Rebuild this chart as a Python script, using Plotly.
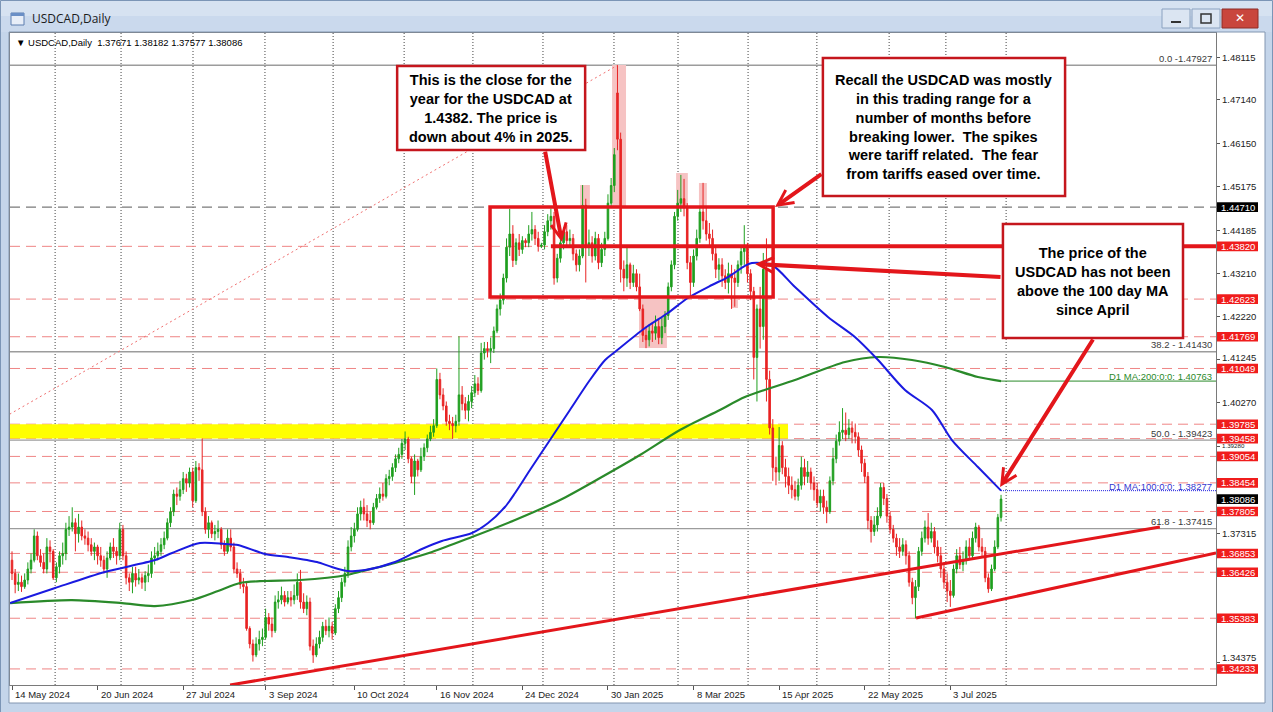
import plotly.graph_objects as go

# ---------------------------------------------------------------------------
# Market data: USDCAD daily candles, one entry per bar (bar 0 = 14 May 2024)
# ---------------------------------------------------------------------------
symbol = "USDCAD"
timeframe = "Daily"

opens = [
    1.3670, 1.3640, 1.3615, 1.3620, 1.3610, 1.3625, 1.3650, 1.3670, 1.3725, 1.3680,
    1.3665, 1.3650, 1.3700, 1.3690, 1.3630, 1.3655, 1.3680, 1.3685, 1.3740, 1.3745,
    1.3755, 1.3730, 1.3745, 1.3725, 1.3720, 1.3705, 1.3690, 1.3700, 1.3680, 1.3670,
    1.3650, 1.3675, 1.3700, 1.3690, 1.3680, 1.3740, 1.3680, 1.3630, 1.3620, 1.3640,
    1.3625, 1.3630, 1.3620, 1.3635, 1.3640, 1.3675, 1.3680, 1.3690, 1.3705, 1.3720,
    1.3755, 1.3780, 1.3820, 1.3815, 1.3830, 1.3855, 1.3845, 1.3870, 1.3805, 1.3880,
    1.3875, 1.3780, 1.3740, 1.3755, 1.3730, 1.3735, 1.3740, 1.3705, 1.3690, 1.3720,
    1.3700, 1.3650, 1.3640, 1.3615, 1.3610, 1.3515, 1.3480, 1.3455, 1.3480, 1.3490,
    1.3495, 1.3540, 1.3525, 1.3510, 1.3575, 1.3580, 1.3590, 1.3575, 1.3585, 1.3580,
    1.3590, 1.3620, 1.3575, 1.3560, 1.3575, 1.3475, 1.3455, 1.3480, 1.3495, 1.3520,
    1.3510, 1.3520, 1.3505, 1.3560, 1.3585, 1.3620, 1.3640, 1.3700, 1.3725, 1.3740,
    1.3775, 1.3790, 1.3775, 1.3760, 1.3755, 1.3790, 1.3810, 1.3820, 1.3815, 1.3855,
    1.3860, 1.3880, 1.3900, 1.3910, 1.3935, 1.3945, 1.3900, 1.3860, 1.3895, 1.3875,
    1.3905, 1.3925, 1.3945, 1.3960, 1.3975, 1.4080, 1.4045, 1.4020, 1.3985, 1.3980,
    1.3975, 1.3985, 1.4045, 1.4025, 1.4010, 1.4030, 1.4050, 1.4070, 1.4055, 1.4140,
    1.4150, 1.4145, 1.4150, 1.4190, 1.4240, 1.4260, 1.4310, 1.4380, 1.4410, 1.4350,
    1.4390, 1.4375, 1.4395, 1.4390, 1.4410, 1.4420, 1.4400, 1.4382, 1.4385, 1.4415,
    1.4440, 1.4450, 1.4310, 1.4355, 1.4390, 1.4415, 1.4395, 1.4400, 1.4365, 1.4340,
    1.4360, 1.4475, 1.4380, 1.4390, 1.4360, 1.4400, 1.4345, 1.4375, 1.4400, 1.4480,
    1.4520, 1.4730, 1.4625, 1.4330, 1.4310, 1.4340, 1.4300, 1.4320, 1.4290, 1.4240,
    1.4180, 1.4170, 1.4190, 1.4185, 1.4200, 1.4175, 1.4200, 1.4225, 1.4290, 1.4340,
    1.4450, 1.4480, 1.4490, 1.4470, 1.4345, 1.4300, 1.4360, 1.4400, 1.4460, 1.4440,
    1.4410, 1.4400, 1.4365, 1.4330, 1.4340, 1.4315, 1.4300, 1.4320, 1.4310, 1.4300,
    1.4340, 1.4370, 1.4380, 1.4320, 1.4280, 1.4130, 1.4240, 1.4200, 1.4330, 1.4080,
    1.3970, 1.3880, 1.3870, 1.3930, 1.3880, 1.3860, 1.3840, 1.3830, 1.3815, 1.3840,
    1.3880, 1.3860, 1.3870, 1.3845, 1.3830, 1.3800, 1.3815, 1.3790, 1.3780, 1.3850,
    1.3900, 1.3940, 1.3960, 1.3965, 1.3955, 1.3970, 1.3960, 1.3950, 1.3920, 1.3890,
    1.3860, 1.3760, 1.3735, 1.3750, 1.3770, 1.3835, 1.3810, 1.3770, 1.3740, 1.3720,
    1.3700, 1.3690, 1.3705, 1.3680, 1.3620, 1.3585, 1.3610, 1.3690, 1.3720, 1.3745,
    1.3720, 1.3735, 1.3700, 1.3680, 1.3650, 1.3620, 1.3600, 1.3590, 1.3650, 1.3680,
    1.3660, 1.3670, 1.3700, 1.3680, 1.3720, 1.3745, 1.3700, 1.3690, 1.3630, 1.3605,
    1.3650, 1.3700, 1.37671,
]

highs = [
    1.3690, 1.3650, 1.3640, 1.3635, 1.3640, 1.3665, 1.3685, 1.3740, 1.3735, 1.3695,
    1.3685, 1.3720, 1.3715, 1.3695, 1.3665, 1.3690, 1.3710, 1.3755, 1.3770, 1.3790,
    1.3765, 1.3775, 1.3760, 1.3740, 1.3735, 1.3720, 1.3710, 1.3705, 1.3700, 1.3680,
    1.3690, 1.3710, 1.3720, 1.3700, 1.3755, 1.3750, 1.3690, 1.3640, 1.3655, 1.3655,
    1.3650, 1.3640, 1.3645, 1.3660, 1.3690, 1.3700, 1.3710, 1.3720, 1.3735, 1.3765,
    1.3790, 1.3830, 1.3835, 1.3850, 1.3870, 1.3866, 1.3880, 1.3880, 1.3895, 1.3890,
    1.3946, 1.3790, 1.3770, 1.3760, 1.3750, 1.3760, 1.3745, 1.3715, 1.3740, 1.3740,
    1.3710, 1.3665, 1.3650, 1.3630, 1.3620, 1.3520, 1.3490, 1.3495, 1.3510, 1.3515,
    1.3560, 1.3550, 1.3540, 1.3590, 1.3600, 1.3610, 1.3600, 1.3600, 1.3600, 1.3615,
    1.3640, 1.3648, 1.3595, 1.3590, 1.3585, 1.3490, 1.3495, 1.3510, 1.3530, 1.3535,
    1.3540, 1.3530, 1.3570, 1.3600, 1.3630, 1.3655, 1.3715, 1.3745, 1.3755, 1.3790,
    1.3805, 1.3810, 1.3795, 1.3780, 1.3800, 1.3820, 1.3835, 1.3845, 1.3865, 1.3875,
    1.3890, 1.3910, 1.3925, 1.3945, 1.3962, 1.3950, 1.3905, 1.3910, 1.3900, 1.3925,
    1.3935, 1.3955, 1.3975, 1.3990, 1.4105, 1.4095, 1.4060, 1.4030, 1.4000, 1.3995,
    1.4000, 1.4178, 1.4065, 1.4040, 1.4045, 1.4065, 1.4090, 1.4085, 1.4163, 1.4165,
    1.4165, 1.4175, 1.4200, 1.4250, 1.4275, 1.4320, 1.4400, 1.4467, 1.4430, 1.4400,
    1.4410, 1.4405, 1.4400, 1.4430, 1.4460, 1.4430, 1.4415, 1.4390, 1.4430, 1.4455,
    1.4468, 1.4460, 1.4365, 1.4400, 1.4425, 1.4430, 1.4420, 1.4410, 1.4375, 1.4375,
    1.4521, 1.4490, 1.4420, 1.4405, 1.4415, 1.4410, 1.4390, 1.4415, 1.4500, 1.4537,
    1.4605, 1.4793, 1.4640, 1.4350, 1.4380, 1.4345, 1.4340, 1.4330, 1.4320, 1.4250,
    1.4200, 1.4205, 1.4210, 1.4225, 1.4215, 1.4220, 1.4235, 1.4300, 1.4350, 1.4460,
    1.4510, 1.4544, 1.4535, 1.4480, 1.4360, 1.4375, 1.4420, 1.4470, 1.4526, 1.4470,
    1.4435, 1.4420, 1.4380, 1.4355, 1.4355, 1.4330, 1.4345, 1.4340, 1.4330, 1.4350,
    1.4385, 1.4430, 1.4390, 1.4330, 1.4290, 1.4250, 1.4290, 1.4367, 1.4400, 1.4100,
    1.3990, 1.3905, 1.3972, 1.3940, 1.3900, 1.3880, 1.3860, 1.3850, 1.3855, 1.3905,
    1.3900, 1.3895, 1.3880, 1.3860, 1.3845, 1.3830, 1.3830, 1.3805, 1.3860, 1.3925,
    1.3955, 1.3985, 1.4015, 1.4005, 1.3990, 1.3985, 1.3980, 1.3960, 1.3930, 1.3900,
    1.3870, 1.3770, 1.3770, 1.3790, 1.3845, 1.3845, 1.3820, 1.3780, 1.3750, 1.3730,
    1.3720, 1.3720, 1.3715, 1.3690, 1.3630, 1.3625, 1.3700, 1.3735, 1.3760, 1.3777,
    1.3755, 1.3745, 1.3715, 1.3700, 1.3665, 1.3640, 1.3625, 1.3660, 1.3695, 1.3700,
    1.3690, 1.3715, 1.3720, 1.3735, 1.3755, 1.3750, 1.3720, 1.3700, 1.3640, 1.3660,
    1.3715, 1.3775, 1.38182,
]

lows = [
    1.3625, 1.3595, 1.3600, 1.3598, 1.3605, 1.3615, 1.3640, 1.3665, 1.3670, 1.3655,
    1.3640, 1.3640, 1.3665, 1.3625, 1.3620, 1.3640, 1.3660, 1.3670, 1.3725, 1.3735,
    1.3690, 1.3710, 1.3715, 1.3705, 1.3690, 1.3680, 1.3670, 1.3660, 1.3655, 1.3640,
    1.3630, 1.3670, 1.3675, 1.3660, 1.3670, 1.3670, 1.3615, 1.3600, 1.3595, 1.3610,
    1.3615, 1.3605, 1.3600, 1.3620, 1.3630, 1.3660, 1.3670, 1.3680, 1.3695, 1.3715,
    1.3745, 1.3770, 1.3795, 1.3805, 1.3820, 1.3825, 1.3835, 1.3790, 1.3800, 1.3850,
    1.3770, 1.3730, 1.3720, 1.3720, 1.3715, 1.3720, 1.3695, 1.3680, 1.3685, 1.3690,
    1.3640, 1.3630, 1.3605, 1.3595, 1.3510, 1.3470, 1.3440, 1.3450, 1.3465, 1.3475,
    1.3490, 1.3510, 1.3495, 1.3505, 1.3560, 1.3570, 1.3565, 1.3570, 1.3565, 1.3570,
    1.3580, 1.3560, 1.3550, 1.3545, 1.3465, 1.3437, 1.3450, 1.3470, 1.3485, 1.3500,
    1.3495, 1.3490, 1.3500, 1.3550, 1.3575, 1.3610, 1.3630, 1.3690, 1.3710, 1.3735,
    1.3760, 1.3760, 1.3745, 1.3740, 1.3750, 1.3785, 1.3800, 1.3805, 1.3810, 1.3840,
    1.3850, 1.3870, 1.3890, 1.3900, 1.3920, 1.3890, 1.3845, 1.3818, 1.3860, 1.3870,
    1.3895, 1.3915, 1.3940, 1.3950, 1.3970, 1.4035, 1.4010, 1.3975, 1.3965, 1.3945,
    1.3960, 1.3975, 1.4010, 1.3990, 1.3985, 1.4015, 1.4040, 1.4045, 1.4050, 1.4125,
    1.4130, 1.4117, 1.4140, 1.4185, 1.4225, 1.4250, 1.4300, 1.4360, 1.4335, 1.4340,
    1.4360, 1.4365, 1.4380, 1.4380, 1.4395, 1.4385, 1.4370, 1.4378, 1.4375, 1.4405,
    1.4420, 1.4295, 1.4300, 1.4345, 1.4375, 1.4385, 1.4380, 1.4350, 1.4325, 1.4325,
    1.4355, 1.4300, 1.4360, 1.4345, 1.4350, 1.4330, 1.4335, 1.4360, 1.4395, 1.4470,
    1.4505, 1.4600, 1.4300, 1.4280, 1.4290, 1.4285, 1.4290, 1.4280, 1.4235, 1.4165,
    1.4151, 1.4155, 1.4165, 1.4170, 1.4160, 1.4160, 1.4185, 1.4215, 1.4280, 1.4330,
    1.4440, 1.4460, 1.4450, 1.4330, 1.4265, 1.4290, 1.4350, 1.4390, 1.4420, 1.4395,
    1.4380, 1.4350, 1.4310, 1.4305, 1.4290, 1.4285, 1.4275, 1.4240, 1.4245, 1.4290,
    1.4320, 1.4340, 1.4300, 1.4260, 1.4080, 1.4030, 1.4150, 1.4170, 1.4030, 1.3955,
    1.3850, 1.3840, 1.3850, 1.3865, 1.3835, 1.3820, 1.3810, 1.3806, 1.3805, 1.3830,
    1.3840, 1.3845, 1.3830, 1.3805, 1.3790, 1.3780, 1.3775, 1.3754, 1.3775, 1.3840,
    1.3890, 1.3930, 1.3945, 1.3940, 1.3945, 1.3935, 1.3935, 1.3905, 1.3870, 1.3845,
    1.3740, 1.3710, 1.3725, 1.3735, 1.3765, 1.3795, 1.3755, 1.3730, 1.3710, 1.3680,
    1.3675, 1.3680, 1.3660, 1.3610, 1.3570, 1.3538, 1.3600, 1.3680, 1.3710, 1.3705,
    1.3710, 1.3685, 1.3665, 1.3630, 1.3605, 1.3575, 1.3564, 1.3585, 1.3640, 1.3650,
    1.3645, 1.3660, 1.3670, 1.3675, 1.3710, 1.3690, 1.3675, 1.3620, 1.3596, 1.3600,
    1.3645, 1.3695, 1.37577,
]

closes = [
    1.3640, 1.3615, 1.3620, 1.3610, 1.3625, 1.3650, 1.3670, 1.3725, 1.3680, 1.3665,
    1.3650, 1.3700, 1.3690, 1.3630, 1.3655, 1.3680, 1.3685, 1.3740, 1.3745, 1.3755,
    1.3730, 1.3745, 1.3725, 1.3720, 1.3705, 1.3690, 1.3700, 1.3680, 1.3670, 1.3650,
    1.3675, 1.3700, 1.3690, 1.3680, 1.3740, 1.3680, 1.3630, 1.3620, 1.3640, 1.3625,
    1.3630, 1.3620, 1.3635, 1.3640, 1.3675, 1.3680, 1.3690, 1.3705, 1.3720, 1.3755,
    1.3780, 1.3820, 1.3815, 1.3830, 1.3855, 1.3845, 1.3870, 1.3805, 1.3880, 1.3875,
    1.3780, 1.3740, 1.3755, 1.3730, 1.3735, 1.3740, 1.3705, 1.3690, 1.3720, 1.3700,
    1.3650, 1.3640, 1.3615, 1.3610, 1.3515, 1.3480, 1.3455, 1.3480, 1.3490, 1.3495,
    1.3540, 1.3525, 1.3510, 1.3575, 1.3580, 1.3590, 1.3575, 1.3585, 1.3580, 1.3590,
    1.3620, 1.3575, 1.3560, 1.3575, 1.3475, 1.3455, 1.3480, 1.3495, 1.3520, 1.3510,
    1.3520, 1.3505, 1.3560, 1.3585, 1.3620, 1.3640, 1.3700, 1.3725, 1.3740, 1.3775,
    1.3790, 1.3775, 1.3760, 1.3755, 1.3790, 1.3810, 1.3820, 1.3815, 1.3855, 1.3860,
    1.3880, 1.3900, 1.3910, 1.3935, 1.3945, 1.3900, 1.3860, 1.3895, 1.3875, 1.3905,
    1.3925, 1.3945, 1.3960, 1.3975, 1.4080, 1.4045, 1.4020, 1.3985, 1.3980, 1.3975,
    1.3985, 1.4045, 1.4025, 1.4010, 1.4030, 1.4050, 1.4070, 1.4055, 1.4140, 1.4150,
    1.4145, 1.4150, 1.4190, 1.4240, 1.4260, 1.4310, 1.4380, 1.4410, 1.4350, 1.4390,
    1.4375, 1.4395, 1.4390, 1.4410, 1.4420, 1.4400, 1.4382, 1.4385, 1.4415, 1.4440,
    1.4450, 1.4310, 1.4355, 1.4390, 1.4415, 1.4395, 1.4400, 1.4365, 1.4340, 1.4360,
    1.4475, 1.4380, 1.4390, 1.4360, 1.4400, 1.4345, 1.4375, 1.4400, 1.4480, 1.4520,
    1.4590, 1.4625, 1.4330, 1.4310, 1.4340, 1.4300, 1.4320, 1.4290, 1.4240, 1.4180,
    1.4170, 1.4190, 1.4185, 1.4200, 1.4175, 1.4200, 1.4225, 1.4290, 1.4340, 1.4450,
    1.4480, 1.4490, 1.4470, 1.4345, 1.4300, 1.4360, 1.4400, 1.4460, 1.4440, 1.4410,
    1.4400, 1.4365, 1.4330, 1.4340, 1.4315, 1.4300, 1.4320, 1.4310, 1.4300, 1.4340,
    1.4370, 1.4380, 1.4320, 1.4280, 1.4130, 1.4240, 1.4200, 1.4330, 1.4080, 1.3970,
    1.3880, 1.3870, 1.3930, 1.3880, 1.3860, 1.3840, 1.3830, 1.3815, 1.3840, 1.3880,
    1.3860, 1.3870, 1.3845, 1.3830, 1.3800, 1.3815, 1.3790, 1.3780, 1.3850, 1.3900,
    1.3940, 1.3960, 1.3965, 1.3955, 1.3970, 1.3960, 1.3950, 1.3920, 1.3890, 1.3860,
    1.3760, 1.3735, 1.3750, 1.3770, 1.3835, 1.3810, 1.3770, 1.3740, 1.3720, 1.3700,
    1.3690, 1.3705, 1.3680, 1.3620, 1.3585, 1.3610, 1.3690, 1.3720, 1.3745, 1.3720,
    1.3735, 1.3700, 1.3680, 1.3650, 1.3620, 1.3600, 1.3590, 1.3650, 1.3680, 1.3660,
    1.3670, 1.3700, 1.3680, 1.3720, 1.3745, 1.3700, 1.3690, 1.3630, 1.3605, 1.3650,
    1.3700, 1.37671, 1.38086,
]

bars = list(range(len(closes)))

# Time axis labels and the bar each one sits on
date_labels = ["14 May 2024", "20 Jun 2024", "27 Jul 2024", "3 Sep 2024", "10 Oct 2024",
               "16 Nov 2024", "24 Dec 2024", "30 Jan 2025", "8 Mar 2025", "15 Apr 2025",
               "22 May 2025", "3 Jul 2025"]
date_label_bars = [0, 27, 54, 80, 108, 134, 161, 188, 215, 242, 269, 296]
month_start_bars = [13.6, 34.4, 57.1, 79.8, 101.3, 123.7, 145.4, 167.5, 189.9,
                    210.1, 232.2, 253.9, 276.7, 294.6, 313.6]

# Moving averages (D1, 100 and 200 periods), sampled along the chart
ma100_bars = [-0.6, 13.6, 29.3, 45.1, 50.5, 59.3, 67.2, 71.3, 79.8, 87.1, 96.2, 100.9,
              106.0, 111.4, 120.8, 129.3, 135.6, 145.1, 150.2, 155.5, 158.7, 163.4,
              169.7, 176.0, 182.3, 187.1, 190.2, 199.7, 206.9, 213.2, 220.8, 225.9,
              231.2, 233.4, 239.7, 247.0, 257.4, 265.9, 273.2, 281.7, 290.2, 296.5,
              304.7, 312.0]
ma100_vals = [1.35728, 1.36069, 1.36432, 1.36704, 1.36863, 1.37090, 1.37067, 1.37045,
              1.36840, 1.36772, 1.36659, 1.36545, 1.36455, 1.36477, 1.36659, 1.36954,
              1.37135, 1.37317, 1.37544, 1.37906, 1.38224, 1.38745, 1.39426, 1.40107,
              1.40787, 1.41241, 1.41423, 1.41967, 1.42307, 1.42648, 1.42943, 1.43124,
              1.43374, 1.43442, 1.43397, 1.42897, 1.42217, 1.41763, 1.41241, 1.40561,
              1.40107, 1.39426, 1.38814, 1.38277]

ma200_bars = [-0.6, 18.9, 34.7, 45.1, 56.8, 65.0, 71.9, 79.8, 90.9, 105.7, 108.2,
              120.8, 132.5, 145.1, 158.7, 172.9, 185.5, 198.1, 210.7, 223.3, 231.2,
              247.0, 262.8, 273.2, 283.9, 294.3, 304.7, 312.0]
ma200_vals = [1.35728, 1.35796, 1.35728, 1.35660, 1.35796, 1.36001, 1.36183, 1.36228,
              1.36251, 1.36364, 1.36410, 1.36637, 1.36886, 1.37226, 1.37612, 1.38065,
              1.38564, 1.39086, 1.39653, 1.40107, 1.40402, 1.40787, 1.41196, 1.41309,
              1.41241, 1.41082, 1.40855, 1.40763]

# Price scale ticks (the ones not hidden behind level flags)
price_ticks = [1.48115, 1.47140, 1.46150, 1.45175, 1.44185, 1.43210, 1.42220, 1.41245,
               1.40270, 1.39280, 1.37315, 1.34375]

# Horizontal levels
red_levels = [1.43820, 1.42623, 1.41769, 1.41049, 1.39785, 1.39458, 1.39054, 1.38454,
              1.37805, 1.36853, 1.36426, 1.35383, 1.34233]
range_top = 1.44710
range_bottom = 1.42670
year_close = 1.43820
support_zone = (1.39458, 1.39785)

# Fibonacci retracement of the 2025 high
fib_pcts = ["0.0", "38.2", "50.0", "61.8"]
fib_prices = [1.47927, 1.41430, 1.39423, 1.37415]
fib_anchor_low = (-221, 1.30919)
fib_anchor_high = (191, 1.47927)

# ---------------------------------------------------------------------------
# Geometry of the window
# ---------------------------------------------------------------------------
W, H = 1273, 712
L, R, T, B = 10, 1216, 33, 685           # plot area in pixels
X_RANGE = [-0.63, 379.81]
Y_RANGE = [1.338685, 1.486595]
PX_PER_PRICE = (B - T) / (Y_RANGE[1] - Y_RANGE[0])

RED = "#e3161b"
BOX_RED = "#c5161d"
GREEN_C = "#1f9f1f"
RED_C = "#e82424"
MA_BLUE = "#1a1ae0"
MA_GREEN = "#2a8a2a"
LEVEL_RED = "#ef8585"
AXIS_FONT = "Liberation Sans, Arial, DejaVu Sans"
LABEL_SIZE = 9.5
FLAG_HALF_PX = 4.8


def PX(x):
    return (x - L) / (R - L)


def PY(y):
    return (B - y) / (B - T)


fig = go.Figure()

fig.add_trace(go.Candlestick(
    x=bars, open=opens, high=highs, low=lows, close=closes,
    increasing=dict(line=dict(color=GREEN_C, width=1), fillcolor=GREEN_C),
    decreasing=dict(line=dict(color=RED_C, width=1), fillcolor=RED_C),
    whiskerwidth=0, hoverinfo="skip", showlegend=False,
))

fig.add_trace(go.Scatter(x=ma200_bars, y=ma200_vals, mode="lines",
                         line=dict(color=MA_GREEN, width=2.2, shape="spline", smoothing=0.8),
                         hoverinfo="skip", showlegend=False))
fig.add_trace(go.Scatter(x=ma100_bars, y=ma100_vals, mode="lines",
                         line=dict(color=MA_BLUE, width=2.0, shape="spline", smoothing=0.8),
                         hoverinfo="skip", showlegend=False))

shapes = []
annotations = []

# --- background objects --------------------------------------------------
shapes.append(dict(type="rect", xref="x", yref="y", x0=X_RANGE[0], x1=244.8,
                   y0=support_zone[0], y1=support_zone[1],
                   fillcolor="#ffff00", line=dict(width=0), layer="below"))

spike_boxes = [(189.3, 193.7, 1.47933, range_top), (179.2, 182.3, 1.45211, range_top),
               (209.5, 213.2, 1.45483, range_top), (216.7, 219.2, 1.45257, range_top),
               (197.8, 206.6, range_bottom, 1.41513), (226.8, 229.0, range_bottom, 1.42421)]
for x0, x1, y0, y1 in spike_boxes:
    shapes.append(dict(type="rect", xref="x", yref="y", x0=x0, x1=x1, y0=y0, y1=y1,
                       fillcolor="#f6c3c3", line=dict(width=0), layer="below"))

for mb in month_start_bars:
    shapes.append(dict(type="line", xref="x", yref="paper", x0=mb, x1=mb, y0=0, y1=1,
                       line=dict(color="#444444", width=1, dash="1px,2px"), layer="below"))

for lv in red_levels:
    shapes.append(dict(type="line", xref="paper", yref="y", x0=0, x1=1, y0=lv, y1=lv,
                       line=dict(color=LEVEL_RED, width=1, dash="10px,6px"), layer="below"))

shapes.append(dict(type="line", xref="paper", yref="y", x0=0, x1=1, y0=range_top, y1=range_top,
                   line=dict(color="#7a7a7a", width=1.4, dash="10px,6px"), layer="below"))

for fp in fib_prices:
    shapes.append(dict(type="line", xref="paper", yref="y", x0=0, x1=1, y0=fp, y1=fp,
                       line=dict(color="#9c9c9c", width=1.4), layer="below"))

shapes.append(dict(type="line", xref="x", yref="y",
                   x0=fib_anchor_low[0], y0=fib_anchor_low[1],
                   x1=fib_anchor_high[0], y1=fib_anchor_high[1],
                   line=dict(color="#f07070", width=1, dash="2px,3px"), layer="below"))

# --- MA end extensions ----------------------------------------------------
shapes.append(dict(type="line", xref="x", yref="y", x0=ma200_bars[-1], x1=X_RANGE[1],
                   y0=ma200_vals[-1], y1=ma200_vals[-1],
                   line=dict(color=MA_GREEN, width=1)))
shapes.append(dict(type="line", xref="x", yref="y", x0=ma100_bars[-1], x1=X_RANGE[1],
                   y0=ma100_vals[-1], y1=ma100_vals[-1],
                   line=dict(color=MA_BLUE, width=1, dash="1px,1px")))

# --- drawn objects ------------------------------------------------------------
shapes.append(dict(type="rect", xref="x", yref="y", x0=150.8, x1=240.1,
                   y0=range_bottom, y1=range_top, line=dict(color=RED, width=3.5)))
shapes.append(dict(type="line", xref="x", yref="y", x0=170, x1=X_RANGE[1],
                   y0=year_close, y1=year_close, line=dict(color=RED, width=4)))
shapes.append(dict(type="line", xref="x", yref="y", x0=68.8, y0=1.33868, x1=362.1, y1=1.37453,
                   line=dict(color=RED, width=3)))
shapes.append(dict(type="line", xref="x", yref="y", x0=285.2, y0=1.35388, x1=X_RANGE[1], y1=1.36863,
                   line=dict(color=RED, width=3)))

callouts = [
    ((121.5, 180.8, 1.46005, 1.47911),
     ["This is the close for the", "year for the USDCAD at",
      "1.4382. The price is", "down about 4% in 2025."]),
    ((255.8, 332.2, 1.44962, 1.48092),
     ["Recall the USDCAD was mostly", "in this trading range for a",
      "number of months before", "breaking lower.\u00a0 The spikes",
      "were tariff related.\u00a0 The fear", "from tariffs eased over time."]),
    ((312.6, 369.4, 1.41740, 1.44326),
     ["The price of the", "USDCAD has not been", "above the 100 day MA", "since April"]),
]
for (x0, x1, y0, y1), lines in callouts:
    shapes.append(dict(type="rect", xref="x", yref="y", x0=x0, x1=x1, y0=y0, y1=y1,
                       fillcolor="white", line=dict(color=BOX_RED, width=2.5)))
    annotations.append(dict(xref="x", yref="y", x=(x0 + x1) / 2, y=(y0 + y1) / 2,
                            text="<br>".join("<b>%s</b>" % s for s in lines),
                            showarrow=False, align="center", xanchor="center", yanchor="middle",
                            font=dict(family="Liberation Sans, Arial", size=14.5, color="black")))

arrows = [((168.1, 1.46005), (173.5, 1.43918)),
          ((255.8, 1.45484), (240.7, 1.44712)),
          ((312.3, 1.43124), (234.4, 1.43419)),
          ((341.3, 1.41740), (311.7, 1.38360))]
for (tx, ty), (hx, hy) in arrows:
    annotations.append(dict(xref="x", yref="y", axref="x", ayref="y", x=hx, y=hy, ax=tx, ay=ty,
                            text="", showarrow=True, arrowhead=5, arrowsize=0.75,
                            arrowwidth=4, arrowcolor=RED, standoff=0, startstandoff=0))

# --- labels inside the plot ---------------------------------------------------
for pct, fp in zip(fib_pcts, fib_prices):
    sep = " -" if pct == "0.0" else " - "
    annotations.append(dict(xref="paper", yref="y", x=PX(1214), y=fp, yshift=7,
                            text="%s%s%.5f" % (pct, sep, fp), showarrow=False,
                            xanchor="right", yanchor="middle",
                            font=dict(family=AXIS_FONT, size=LABEL_SIZE, color="#3a3a3a")))

annotations.append(dict(xref="paper", yref="y", x=PX(1214), y=ma200_vals[-1], yshift=5,
                        text="D1 MA:200:0:0: %.5f" % ma200_vals[-1], showarrow=False,
                        xanchor="right", yanchor="middle",
                        font=dict(family=AXIS_FONT, size=LABEL_SIZE, color=MA_GREEN)))
annotations.append(dict(xref="paper", yref="y", x=PX(1214), y=ma100_vals[-1], yshift=4,
                        text="D1 MA:100:0:0: %.5f" % ma100_vals[-1], showarrow=False,
                        xanchor="right", yanchor="middle",
                        font=dict(family=AXIS_FONT, size=LABEL_SIZE, color="#3636d0")))

annotations.append(dict(xref="paper", yref="paper", x=PX(14), y=PY(42),
                        text="\u25bc %s,%s\u00a0 %.5f %.5f %.5f %.5f" % (
                            symbol, timeframe, opens[-1], highs[-1], lows[-1], closes[-1]),
                        showarrow=False, xanchor="left", yanchor="middle",
                        font=dict(family=AXIS_FONT, size=LABEL_SIZE, color="black")))

# --- price scale: regular labels, then level flags on top ---------------------
flag_levels = red_levels + [range_top, closes[-1]]
NEED = 11.0  # vertical room a regular label needs, in pixels
for tv in price_ticks:
    above = [fl for fl in flag_levels if fl > tv]
    below = [fl for fl in flag_levels if fl <= tv]
    d_up = (min(above) - tv) * PX_PER_PRICE if above else 1e9
    d_dn = (tv - max(below)) * PX_PER_PRICE if below else 1e9
    shift, size = 0.0, LABEL_SIZE
    if min(d_up, d_dn) < NEED:
        room = d_up + d_dn - 2 * FLAG_HALF_PX
        if room >= NEED + 1:
            # slide the label clear of the closer flag
            if d_up < d_dn:
                shift = -(NEED - d_up)
            else:
                shift = NEED - d_dn
        else:
            # squeezed between two flags: centre it in the gap and shrink it
            shift = (d_dn - d_up) / 2.0
            size = max(6.0, room - 2.0)
    annotations.append(dict(xref="paper", yref="y", x=PX(1220), y=tv, yshift=shift,
                            text="%.5f" % tv, showarrow=False, xanchor="left", yanchor="middle",
                            font=dict(family=AXIS_FONT, size=size, color="#222222")))

half = FLAG_HALF_PX / PX_PER_PRICE
flags = [(lv, "#f01c1c") for lv in red_levels] + [(range_top, "black"), (closes[-1], "black")]
for lv, col in flags:
    shapes.append(dict(type="rect", xref="paper", yref="y", x0=PX(1217), x1=PX(1258),
                       y0=lv - half, y1=lv + half, fillcolor=col, line=dict(width=0)))
    annotations.append(dict(xref="paper", yref="y", x=PX(1237.5), y=lv, text="%.5f" % lv,
                            showarrow=False, xanchor="center", yanchor="middle",
                            font=dict(family=AXIS_FONT, size=LABEL_SIZE, color="white")))

# --- time scale labels --------------------------------------------------------
for lbl, b in zip(date_labels, date_label_bars):
    annotations.append(dict(xref="x", yref="paper", x=b, y=PY(694), xshift=1,
                            text=lbl, showarrow=False, xanchor="left", yanchor="middle",
                            font=dict(family=AXIS_FONT, size=LABEL_SIZE, color="#222222")))

# --- window frame -------------------------------------------------------------
FRAME = "#c4d5ea"
shapes += [
    dict(type="rect", xref="paper", yref="paper", x0=PX(0), x1=PX(W), y0=PY(32), y1=PY(0),
         fillcolor="#cad9ed", line=dict(width=0)),
    dict(type="rect", xref="paper", yref="paper", x0=PX(0), x1=PX(W), y0=PY(16), y1=PY(0),
         fillcolor="#d6e2f1", line=dict(width=0)),
    dict(type="rect", xref="paper", yref="paper", x0=PX(0), x1=PX(9), y0=PY(W), y1=PY(32),
         fillcolor=FRAME, line=dict(width=0)),
    dict(type="rect", xref="paper", yref="paper", x0=PX(1265), x1=PX(W), y0=PY(W), y1=PY(32),
         fillcolor=FRAME, line=dict(width=0)),
    dict(type="rect", xref="paper", yref="paper", x0=PX(0), x1=PX(W), y0=PY(W), y1=PY(703),
         fillcolor=FRAME, line=dict(width=0)),
    dict(type="rect", xref="paper", yref="paper", x0=PX(0.5), x1=PX(W - 0.5), y0=PY(W - 0.5), y1=PY(0.5),
         fillcolor="rgba(0,0,0,0)", line=dict(color="#7b95b6", width=1)),
    dict(type="rect", xref="paper", yref="paper", x0=PX(9), x1=PX(1265), y0=PY(703), y1=PY(32),
         fillcolor="rgba(0,0,0,0)", line=dict(color="#8296b0", width=1)),
    # title icon
    dict(type="rect", xref="paper", yref="paper", x0=PX(11), x1=PX(24), y0=PY(25), y1=PY(13),
         fillcolor="#e8eef8", line=dict(color="#5d7fb0", width=1)),
    dict(type="rect", xref="paper", yref="paper", x0=PX(11), x1=PX(24), y0=PY(16), y1=PY(13),
         fillcolor="#6a8fc6", line=dict(width=0)),
    # caption buttons
    dict(type="rect", xref="paper", yref="paper", x0=PX(1162), x1=PX(1190), y0=PY(28), y1=PY(9),
         fillcolor="#dbe5f2", line=dict(color="#8ba2c0", width=1)),
    dict(type="rect", xref="paper", yref="paper", x0=PX(1192), x1=PX(1220), y0=PY(28), y1=PY(9),
         fillcolor="#dbe5f2", line=dict(color="#8ba2c0", width=1)),
    dict(type="rect", xref="paper", yref="paper", x0=PX(1222), x1=PX(1258), y0=PY(28), y1=PY(9),
         fillcolor="#c9463d", line=dict(color="#8e2c26", width=1)),
    dict(type="line", xref="paper", yref="paper", x0=PX(1171), x1=PX(1181), y0=PY(22), y1=PY(22),
         line=dict(color="#333333", width=2)),
    dict(type="rect", xref="paper", yref="paper", x0=PX(1201), x1=PX(1211), y0=PY(23), y1=PY(14),
         fillcolor="rgba(0,0,0,0)", line=dict(color="#333333", width=1.5)),
]
annotations.append(dict(xref="paper", yref="paper", x=PX(1240), y=PY(18.5), text="\u2715",
                        showarrow=False, xanchor="center", yanchor="middle",
                        font=dict(family="DejaVu Sans", size=12, color="white")))
annotations.append(dict(xref="paper", yref="paper", x=PX(30), y=PY(19), text="%s,%s" % (symbol, timeframe),
                        showarrow=False, xanchor="left", yanchor="middle",
                        font=dict(family="Open Sans, Noto Sans", size=12, color="#1b1b1b")))

fig.update_layout(
    width=W, height=H, autosize=False,
    margin=dict(l=L, r=W - R, t=T, b=H - B, pad=0),
    paper_bgcolor="white", plot_bgcolor="white",
    showlegend=False, hovermode=False, dragmode=False,
    shapes=shapes, annotations=annotations,
    xaxis=dict(range=X_RANGE, rangeslider=dict(visible=False), showgrid=False, zeroline=False,
               tickvals=date_label_bars, showticklabels=False, ticks="outside", ticklen=4,
               tickcolor="#555555", showline=True, mirror=True, linecolor="#7a7a7a", linewidth=1),
    yaxis=dict(range=Y_RANGE, side="right", showgrid=False, zeroline=False,
               tickvals=price_ticks, showticklabels=False,
               ticks="outside", ticklen=3, tickcolor="#555555",
               showline=True, mirror=True, linecolor="#7a7a7a", linewidth=1),
)

fig.write_html("out.html")
